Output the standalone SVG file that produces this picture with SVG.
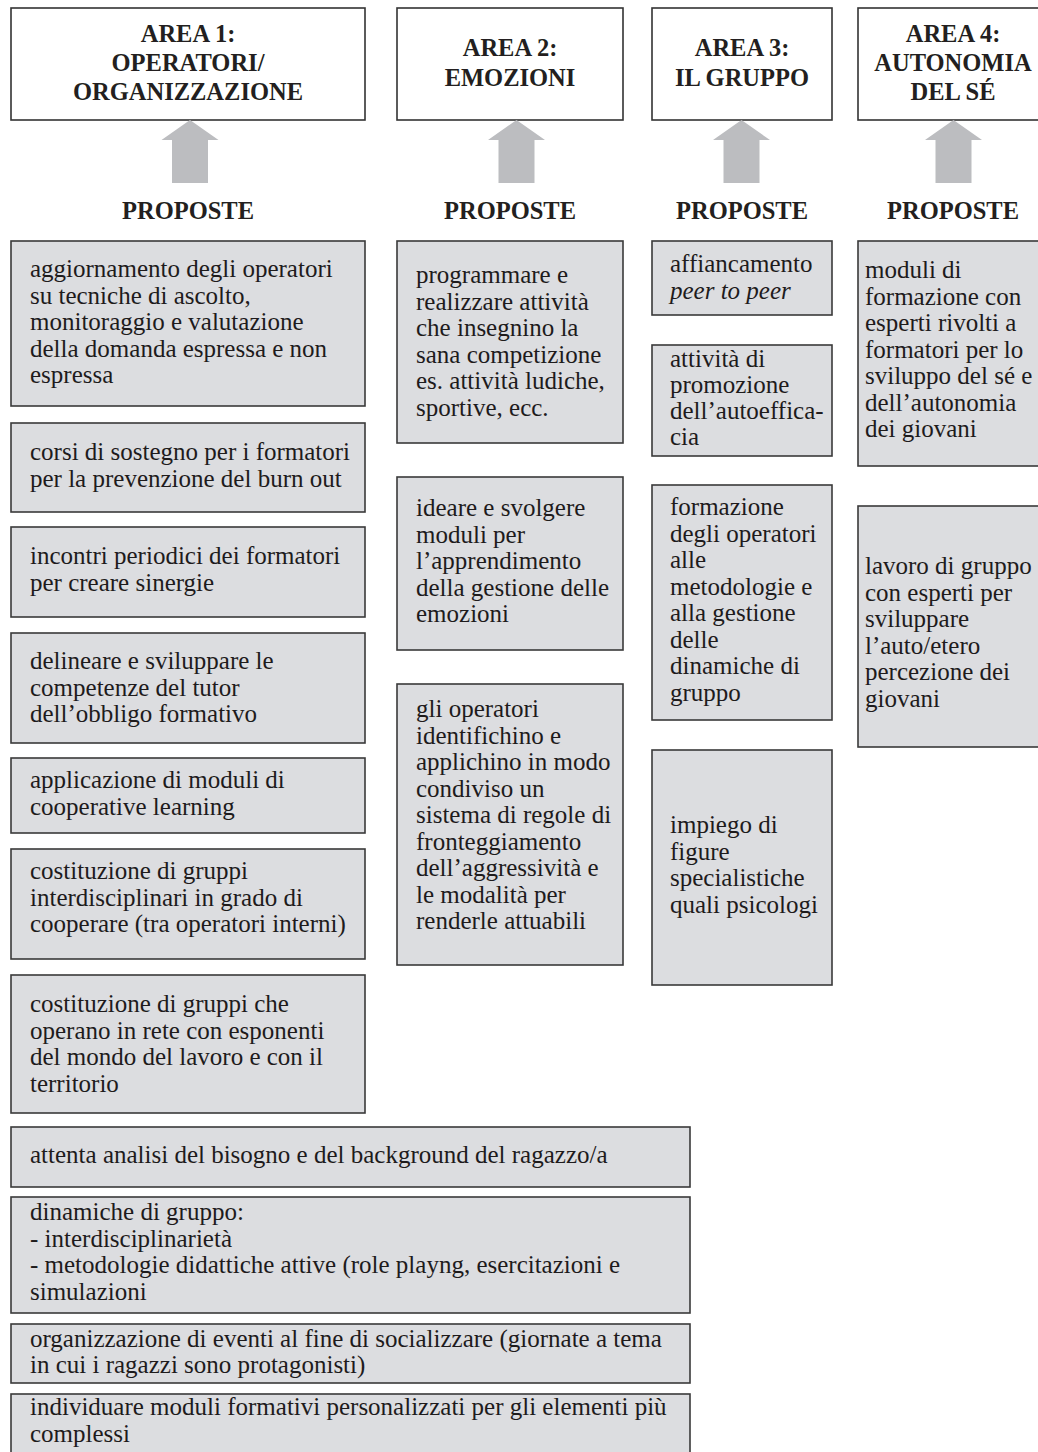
<svg xmlns="http://www.w3.org/2000/svg" width="1038" height="1452" viewBox="0 0 1038 1452">
  <style>
    .area rect { fill: #ffffff; stroke: #333333; stroke-width: 1.6; }
    .prop rect { fill: #dcdde0; stroke: #3a3a3a; stroke-width: 1.6; }
    .hd { font-family: "Liberation Serif", "Times New Roman", serif; font-weight: bold; font-size: 24.5px; fill: #231f20; text-anchor: middle; }
    .tx { font-family: "Liberation Serif", "Times New Roman", serif; font-size: 25px; fill: #1e1b1c; }
    .it { font-style: italic; }
    .arrow { fill: #bcbdc0; }
  </style>
  <rect width="1038" height="1452" fill="#ffffff"/>

  <!-- area headers -->
  <g id="area1" class="area">
    <rect x="11" y="8" width="354" height="112"/>
    <text class="hd" x="188" y="42">AREA 1:</text>
    <text class="hd" x="188" y="71">OPERATORI/</text>
    <text class="hd" x="188" y="100">ORGANIZZAZIONE</text>
  </g>
  <g id="area2" class="area">
    <rect x="397" y="8" width="226" height="112"/>
    <text class="hd" x="510" y="56">AREA 2:</text>
    <text class="hd" x="510" y="86">EMOZIONI</text>
  </g>
  <g id="area3" class="area">
    <rect x="652" y="8" width="180" height="112"/>
    <text class="hd" x="742" y="56">AREA 3:</text>
    <text class="hd" x="742" y="86">IL GRUPPO</text>
  </g>
  <g id="area4" class="area">
    <rect x="858" y="8" width="200" height="112"/>
    <text class="hd" x="953" y="42">AREA 4:</text>
    <text class="hd" x="953" y="71">AUTONOMIA</text>
    <text class="hd" x="953" y="100">DEL SÉ</text>
  </g>

  <!-- upward block arrows from the proposals to each area -->
  <g id="connectors" class="arrow">
    <polygon points="190,120 218.5,140 208,140 208,183 172,183 172,140 161.5,140"/>
    <polygon points="516.5,120 545,140 534.5,140 534.5,183 498.5,183 498.5,140 488,140"/>
    <polygon points="741.5,120 770,140 759.5,140 759.5,183 723.5,183 723.5,140 713,140"/>
    <polygon points="953.5,120 982,140 971.5,140 971.5,183 935.5,183 935.5,140 925,140"/>
  </g>

  <!-- column titles -->
  <g id="titles">
    <text class="hd" x="188" y="219">PROPOSTE</text>
    <text class="hd" x="510" y="219">PROPOSTE</text>
    <text class="hd" x="742" y="219">PROPOSTE</text>
    <text class="hd" x="953" y="219">PROPOSTE</text>
  </g>

  <!-- area 1 proposals -->
  <g id="p1a" class="prop">
    <rect x="11" y="241" width="354" height="165"/>
    <text class="tx" x="30" y="277">aggiornamento degli operatori</text>
    <text class="tx" x="30" y="303.5">su tecniche di ascolto,</text>
    <text class="tx" x="30" y="330">monitoraggio e valutazione</text>
    <text class="tx" x="30" y="356.5">della domanda espressa e non</text>
    <text class="tx" x="30" y="383">espressa</text>
  </g>
  <g id="p1b" class="prop">
    <rect x="11" y="423" width="354" height="89"/>
    <text class="tx" x="30" y="460">corsi di sostegno per i formatori</text>
    <text class="tx" x="30" y="486.5">per la prevenzione del burn out</text>
  </g>
  <g id="p1c" class="prop">
    <rect x="11" y="527" width="354" height="90"/>
    <text class="tx" x="30" y="564">incontri periodici dei formatori</text>
    <text class="tx" x="30" y="590.5">per creare sinergie</text>
  </g>
  <g id="p1d" class="prop">
    <rect x="11" y="633" width="354" height="110"/>
    <text class="tx" x="30" y="669">delineare e sviluppare le</text>
    <text class="tx" x="30" y="695.5">competenze del tutor</text>
    <text class="tx" x="30" y="722">dell’obbligo formativo</text>
  </g>
  <g id="p1e" class="prop">
    <rect x="11" y="758" width="354" height="75"/>
    <text class="tx" x="30" y="788">applicazione di moduli di</text>
    <text class="tx" x="30" y="814.5">cooperative learning</text>
  </g>
  <g id="p1f" class="prop">
    <rect x="11" y="849" width="354" height="110"/>
    <text class="tx" x="30" y="879">costituzione di gruppi</text>
    <text class="tx" x="30" y="905.5">interdisciplinari in grado di</text>
    <text class="tx" x="30" y="932">cooperare (tra operatori interni)</text>
  </g>
  <g id="p1g" class="prop">
    <rect x="11" y="975" width="354" height="138"/>
    <text class="tx" x="30" y="1012">costituzione di gruppi che</text>
    <text class="tx" x="30" y="1038.5">operano in rete con esponenti</text>
    <text class="tx" x="30" y="1065">del mondo del lavoro e con il</text>
    <text class="tx" x="30" y="1091.5">territorio</text>
  </g>

  <!-- area 2 proposals -->
  <g id="p2a" class="prop">
    <rect x="397" y="241" width="226" height="202"/>
    <text class="tx" x="416" y="283">programmare e</text>
    <text class="tx" x="416" y="309.5">realizzare attività</text>
    <text class="tx" x="416" y="336">che insegnino la</text>
    <text class="tx" x="416" y="362.5">sana competizione</text>
    <text class="tx" x="416" y="389">es. attività ludiche,</text>
    <text class="tx" x="416" y="415.5">sportive, ecc.</text>
  </g>
  <g id="p2b" class="prop">
    <rect x="397" y="477" width="226" height="173"/>
    <text class="tx" x="416" y="516">ideare e svolgere</text>
    <text class="tx" x="416" y="542.5">moduli per</text>
    <text class="tx" x="416" y="569">l’apprendimento</text>
    <text class="tx" x="416" y="595.5">della gestione delle</text>
    <text class="tx" x="416" y="622">emozioni</text>
  </g>
  <g id="p2c" class="prop">
    <rect x="397" y="684" width="226" height="281"/>
    <text class="tx" x="416" y="717">gli operatori</text>
    <text class="tx" x="416" y="743.5">identifichino e</text>
    <text class="tx" x="416" y="770">applichino in modo</text>
    <text class="tx" x="416" y="796.5">condiviso un</text>
    <text class="tx" x="416" y="823">sistema di regole di</text>
    <text class="tx" x="416" y="849.5">fronteggiamento</text>
    <text class="tx" x="416" y="876">dell’aggressività e</text>
    <text class="tx" x="416" y="902.5">le modalità per</text>
    <text class="tx" x="416" y="929">renderle attuabili</text>
  </g>

  <!-- area 3 proposals -->
  <g id="p3a" class="prop">
    <rect x="652" y="241" width="180" height="74"/>
    <text class="tx" x="670" y="272">affiancamento</text>
    <text class="tx it" x="670" y="298.5">peer to peer</text>
  </g>
  <g id="p3b" class="prop">
    <rect x="652" y="345" width="180" height="111"/>
    <text class="tx" x="670" y="366.5">attività di</text>
    <text class="tx" x="670" y="392.5">promozione</text>
    <text class="tx" x="670" y="418.5">dell’autoeffica-</text>
    <text class="tx" x="670" y="444.5">cia</text>
  </g>
  <g id="p3c" class="prop">
    <rect x="652" y="485" width="180" height="235"/>
    <text class="tx" x="670" y="515">formazione</text>
    <text class="tx" x="670" y="541.5">degli operatori</text>
    <text class="tx" x="670" y="568">alle</text>
    <text class="tx" x="670" y="594.5">metodologie e</text>
    <text class="tx" x="670" y="621">alla gestione</text>
    <text class="tx" x="670" y="647.5">delle</text>
    <text class="tx" x="670" y="674">dinamiche di</text>
    <text class="tx" x="670" y="700.5">gruppo</text>
  </g>
  <g id="p3d" class="prop">
    <rect x="652" y="750" width="180" height="235"/>
    <text class="tx" x="670" y="833">impiego di</text>
    <text class="tx" x="670" y="859.5">figure</text>
    <text class="tx" x="670" y="886">specialistiche</text>
    <text class="tx" x="670" y="912.5">quali psicologi</text>
  </g>

  <!-- area 4 proposals -->
  <g id="p4a" class="prop">
    <rect x="858" y="241" width="200" height="225"/>
    <text class="tx" x="865" y="278">moduli di</text>
    <text class="tx" x="865" y="304.5">formazione con</text>
    <text class="tx" x="865" y="331">esperti rivolti a</text>
    <text class="tx" x="865" y="357.5">formatori per lo</text>
    <text class="tx" x="865" y="384">sviluppo del sé e</text>
    <text class="tx" x="865" y="410.5">dell’autonomia</text>
    <text class="tx" x="865" y="437">dei giovani</text>
  </g>
  <g id="p4b" class="prop">
    <rect x="858" y="506" width="200" height="241"/>
    <text class="tx" x="865" y="574">lavoro di gruppo</text>
    <text class="tx" x="865" y="600.5">con esperti per</text>
    <text class="tx" x="865" y="627">sviluppare</text>
    <text class="tx" x="865" y="653.5">l’auto/etero</text>
    <text class="tx" x="865" y="680">percezione dei</text>
    <text class="tx" x="865" y="706.5">giovani</text>
  </g>

  <!-- shared proposals spanning several areas -->
  <g id="pw1" class="prop">
    <rect x="11" y="1127" width="679" height="60"/>
    <text class="tx" x="30" y="1163">attenta analisi del bisogno e del background del ragazzo/a</text>
  </g>
  <g id="pw2" class="prop">
    <rect x="11" y="1197" width="679" height="116"/>
    <text class="tx" x="30" y="1220">dinamiche di gruppo:</text>
    <text class="tx" x="30" y="1246.5">- interdisciplinarietà</text>
    <text class="tx" x="30" y="1273">- metodologie didattiche attive (role playng, esercitazioni e</text>
    <text class="tx" x="30" y="1299.5">simulazioni</text>
  </g>
  <g id="pw3" class="prop">
    <rect x="11" y="1324" width="679" height="59"/>
    <text class="tx" x="30" y="1346.5">organizzazione di eventi al fine di socializzare (giornate a tema</text>
    <text class="tx" x="30" y="1373">in cui i ragazzi sono protagonisti)</text>
  </g>
  <g id="pw4" class="prop">
    <rect x="11" y="1394" width="679" height="70"/>
    <text class="tx" x="30" y="1415">individuare moduli formativi personalizzati per gli elementi più</text>
    <text class="tx" x="30" y="1441.5">complessi</text>
  </g>
</svg>
